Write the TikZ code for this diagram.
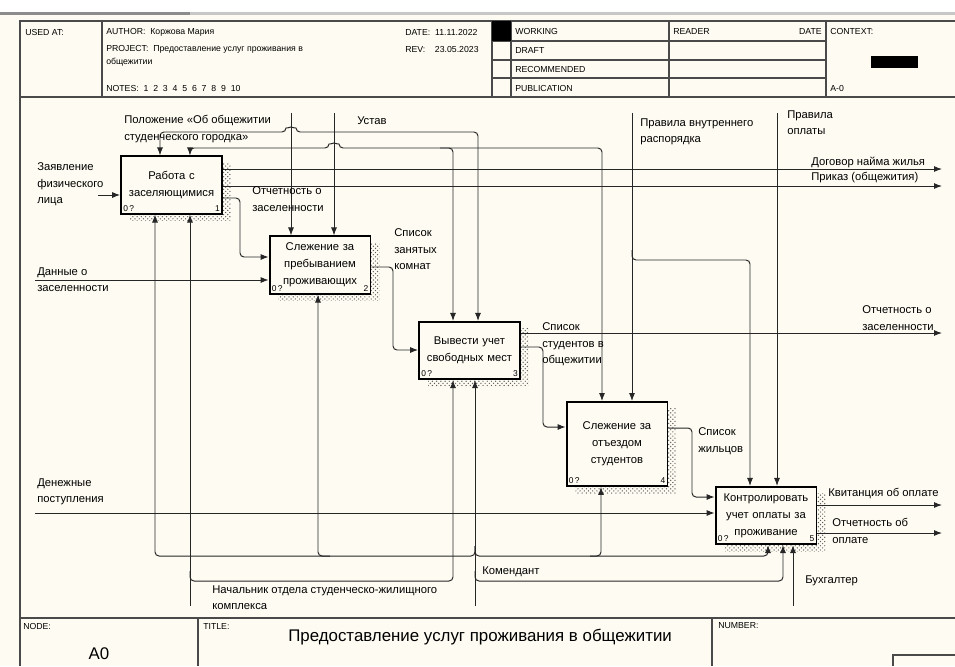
\documentclass[tikz,border=0pt]{standalone}
\usepackage{fontspec}
\setmainfont{Liberation Sans}
\usetikzlibrary{arrows.meta,patterns}
\definecolor{PaperCream}{HTML}{FEFCF2}
\definecolor{FrameGrey}{HTML}{4A4A4A}
\definecolor{LineBlack}{HTML}{262626}
\definecolor{ShadowGrey}{HTML}{5E5E5E}

\begin{document}
\begin{tikzpicture}[
    x=0.025cm, y=-0.025cm,
    box/.style={
      draw=black, line width=1.3pt, fill=PaperCream,
      minimum width=2.52cm, minimum height=1.43cm,
      text width=2.4cm, inner xsep=1pt, inner ysep=1pt, align=center,
      font=\fontsize{8}{12}\selectfont,
      execute at end node={\endgraf\vskip 7pt},
      preaction={pattern=crosshatch dots, pattern color=ShadowGrey,
        transform canvas={xshift=0.225cm, yshift=-0.175cm}}
    },
    num/.style={font=\fontsize{6}{7}\selectfont, inner sep=2pt},
    lbl/.style={font=\fontsize{8}{12}\selectfont, align=left, inner sep=0pt, anchor=north west},
    hdr/.style={font=\fontsize{6.2}{7}\selectfont, inner sep=0pt, anchor=west},
    arr/.style={draw=LineBlack, line width=0.7pt, rounded corners=1mm, -{Latex[length=2mm,width=1.5mm]}},
    twoway/.style={arr, {Latex[length=2mm,width=1.5mm]}-{Latex[length=2mm,width=1.5mm]}},
    frame/.style={draw=FrameGrey, line width=0.9pt}
  ]
  % sheet
  \useasboundingbox (0,0) rectangle (955,666);
  \fill[white] (0,0) rectangle (955,12);
  \fill[PaperCream] (0,15) rectangle (955,666);
  \fill[black!22] (0,12) rectangle (955,15);
  \fill[black!45] (0,12) rectangle (190,15);

  % form frame
  \draw[frame] (20,666) -- (20,21) -- (955,21);
  \draw[frame] (20,97) -- (955,97);
  \draw[frame] (20,618) -- (955,618);
  \draw[frame] (102,21) -- (102,97);
  \draw[frame] (492,21) -- (492,97) (511,21) -- (511,97) (669,21) -- (669,97) (826,21) -- (826,97);
  \foreach \y in {41,60,78} \draw[frame] (492,\y) -- (826,\y);
  \fill (492,21) rectangle (511,41);
  \fill (871,56) rectangle (918,68);
  \draw[frame] (198,618) -- (198,666) (712,618) -- (712,666);
  \draw[frame] (893,666) -- (893,655) -- (955,655);

  % header
  \node[hdr] (usedat) at (25,32) {USED AT:};
  \node[hdr] (author) at (106,32) {AUTHOR:\ \ Коржова Мария};
  \node[hdr] (project) at (106,49) {PROJECT:\ \ Предоставление услуг проживания в};
  \node[hdr] (project2) at (106,62) {общежитии};
  \node[hdr] (notes) at (106,88) {NOTES:\ \ 1\ \ 2\ \ 3\ \ 4\ \ 5\ \ 6\ \ 7\ \ 8\ \ 9\ \ 10};
  \node[hdr] (date) at (405,32) {DATE:\ \ 11.11.2022};
  \node[hdr] (rev) at (405,49) {REV:\ \ \ \ 23.05.2023};
  \node[hdr] (working) at (515,31) {WORKING};
  \node[hdr] (draft) at (515,50) {DRAFT};
  \node[hdr] (recomm) at (515,69) {RECOMMENDED};
  \node[hdr] (public) at (515,88) {PUBLICATION};
  \node[hdr] (reader) at (673,31) {READER};
  \node[hdr, anchor=east] (rdate) at (822,31) {DATE};
  \node[hdr] (context) at (830,31) {CONTEXT:};
  \node[hdr] (ctxnode) at (830,88) {A-0};

  % footer
  \node[hdr] (nodelbl) at (23,626) {NODE:};
  \node[hdr] (titlelbl) at (203,626) {TITLE:};
  \node[hdr] (numberlbl) at (718,626) {NUMBER:};
  \node[font=\fontsize{12}{14}\selectfont, inner sep=0pt] (nodeid) at (99,654) {A0};
  \node[font=\fontsize{12}{14}\selectfont, inner sep=0pt, anchor=west] (title) at (288,637)
    {Предоставление услуг проживания в общежитии};

  % activities
  \node[box] (b1) at (171.5,185) {Работа с\\заселяющимися};
  \node[box] (b2) at (320,265) {Слежение за\\пребыванием\\проживающих};
  \node[box] (b3) at (469.5,350.5) {Вывести учет\\свободных мест};
  \node[box, minimum height=2.1cm] (b4) at (617,444) {Слежение за\\отъездом\\студентов};
  \node[box] (b5) at (766,515.5) {Контролировать\\учет оплаты за\\проживание};
  \foreach \b/\n in {b1/1,b2/2,b3/3,b4/4,b5/5} {
    \node[num, anchor=south west] (\b-cost) at (\b.south west) {0\,?};
    \node[num, anchor=south east] (\b-num) at (\b.south east) {\n};
  }

  % boundary arrow ends
  \coordinate (zayav) at (98,195);
  \coordinate (dannye) at (35,280);
  \coordinate (dengi) at (35,513);
  \coordinate (dogovor) at (942,169);
  \coordinate (prikaz) at (942,186);
  \coordinate (otchzas) at (942,333);
  \coordinate (kvit) at (942,505);
  \coordinate (otchopl) at (942,533);
  \coordinate (polozh) at (291,113);
  \coordinate (ustav) at (334,113);
  \coordinate (pravvn) at (632,113);
  \coordinate (pravopl) at (777,113);
  \coordinate (nach) at (190,606);
  \coordinate (koment) at (475,606);
  \coordinate (buh) at (793,606);

  % inputs and outputs
  \draw[arr] (zayav) -- (zayav -| b1.west);
  \draw[arr] (dannye) -- (dannye -| b2.west);
  \draw[arr] (dengi) -- (dengi -| b5.west);
  \draw[arr] (dogovor -| b1.east) -- (dogovor);
  \draw[arr] (prikaz -| b1.east) -- (prikaz);
  \draw[arr] (otchzas -| b3.east) -- (otchzas);
  \draw[arr] (kvit -| b5.east) -- (kvit);
  \draw[arr] (otchopl -| b5.east) -- (otchopl);

  % box to box
  \draw[arr] (b1.east |- 0,198) -| (240,257) -- (b2.west |- 0,257);
  \draw[arr] (b2.east |- 0,267) -| (393,350) -- (b3.west |- 0,350);
  \draw[arr] (b3.east |- 0,347) -| (543,427) -- (b4.west |- 0,427);
  \draw[arr] (b4.east |- 0,428) -| (692,497) -- (b5.west |- 0,497);

  % controls
  \draw[arr] (polozh) -- (polozh |- b2.north);
  \draw[arr] (ustav) -- (ustav |- b2.north);
  \draw[arr] (pravvn) -- (pravvn |- b4.north);
  \draw[arr] (pravopl) -- (pravopl |- b5.north);
  \draw[arr] (pravvn |- 0,250) |- (750,260) -- (b5.north -| 750,0);
  \draw[twoway] (b1.north -| 160,0) |- (286,132)
    arc[start angle=180, end angle=0, radius=1.25mm] -- (478,132) -- (b3.north -| 478,0);
  \draw[twoway] (b1.north -| 190,0) |- (329,148)
    arc[start angle=180, end angle=0, radius=1.25mm] -- (602,148) -- (b4.north -| 602,0);
  \draw[arr] (440,148) -| (b3.north -| 453,0);

  % mechanisms
  \draw[arr] (nach) -- (nach |- b1.south);
  \draw[arr] (nach |- 0,571) |- (453,581) -- (b3.south -| 453,0);
  \draw[arr] (koment) -- (koment |- b3.south);
  \draw[arr] (koment |- 0,571) |- (783,581) -- (b5.south -| 783,0);
  \draw[arr] (koment |- 0,546) |- (155,556) -- (b1.south -| 155,0);
  \draw[arr] (330,556) -| (b2.south -| 318,0);
  \draw[arr] (koment |- 0,546) |- (768,556) -- (b5.south -| 768,0);
  \draw[arr] (590,556) -| (b4.south -| 601,0);
  \draw[arr] (buh) -- (buh |- b5.south);

  % arrow labels
  \node[lbl] (lzayav) at (37,162) {Заявление\\физического\\лица};
  \node[lbl] (ldannye) at (37,267) {Данные о\\заселенности};
  \node[lbl] (ldengi) at (37,478) {Денежные\\поступления};
  \node[lbl] (lpolozh) at (124,115) {Положение «Об общежитии\\студенческого городка»};
  \node[lbl] (lustav) at (357,116) {Устав};
  \node[lbl] (lotchet) at (252,186) {Отчетность о\\заселенности};
  \node[lbl] (lzanyat) at (394,228) {Список\\занятых\\комнат};
  \node[lbl] (lpravvn) at (640,118) {Правила внутреннего\\распорядка};
  \node[lbl] (lpravopl) at (787,110) {Правила\\оплаты};
  \node[lbl] (ldogovor) at (811,157) {Договор найма жилья};
  \node[lbl] (lprikaz) at (811,172) {Приказ (общежития)};
  \node[lbl] (lotchzas) at (862,305) {Отчетность о\\заселенности};
  \node[lbl] (lstud) at (542,322) {Список\\студентов в\\общежитии};
  \node[lbl] (lzhil) at (698,427) {Список\\жильцов};
  \node[lbl] (lkvit) at (828,488) {Квитанция об оплате};
  \node[lbl] (lotchopl) at (832,518) {Отчетность об\\оплате};
  \node[lbl] (lkoment) at (482,566) {Комендант};
  \node[lbl] (lbuh) at (805,575) {Бухгалтер};
  \node[lbl] (lnach) at (212,585) {Начальник отдела студенческо-жилищного\\комплекса};
\end{tikzpicture}
\end{document}
